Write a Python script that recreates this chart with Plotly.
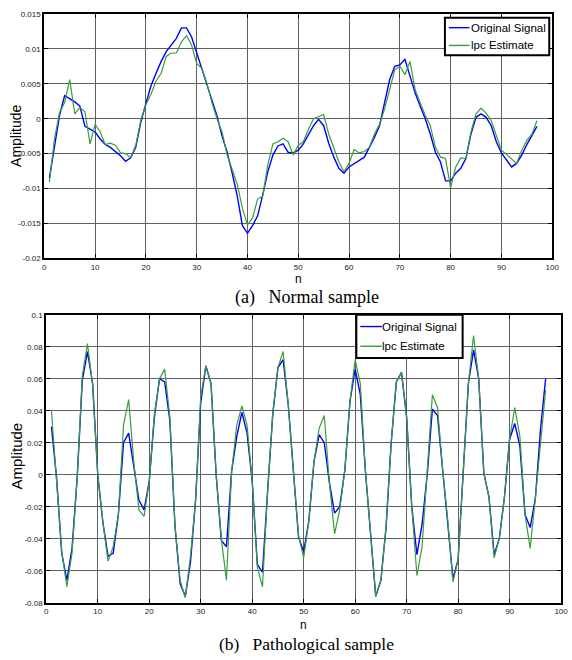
import plotly.graph_objects as go

W, H = 572, 660

# ---------------- data ----------------
n = list(range(1, 98))

normal_original = [
    -0.0085, -0.0043, 0.0005, 0.0033, 0.0029, 0.0024, 0.0018, -0.0011, -0.0015, -0.0019,
    -0.0029, -0.0037, -0.0041, -0.0047, -0.0053, -0.0061, -0.0056, -0.0041, -0.0005, 0.0022,
    0.0047, 0.0065, 0.0082, 0.0096, 0.0105, 0.0115, 0.0130, 0.0130, 0.0117, 0.0094,
    0.0072, 0.0051, 0.0028, 0.0004, -0.0025, -0.0048, -0.0078, -0.0111, -0.0153, -0.0164,
    -0.0153, -0.0139, -0.0109, -0.0076, -0.0052, -0.0039, -0.0036, -0.0048, -0.0049, -0.0045,
    -0.0036, -0.0023, -0.0010, -0.0001, -0.0010, -0.0035, -0.0055, -0.0071, -0.0078, -0.0069,
    -0.0064, -0.0060, -0.0055, -0.0041, -0.0027, -0.0010, 0.0023, 0.0056, 0.0075, 0.0077,
    0.0085, 0.0061, 0.0037, 0.0018, 0.0000, -0.0022, -0.0048, -0.0062, -0.0089, -0.0089,
    -0.0078, -0.0071, -0.0057, -0.0022, 0.0002, 0.0007, 0.0002, -0.0010, -0.0033, -0.0049,
    -0.0059, -0.0069, -0.0064, -0.0052, -0.0037, -0.0023, -0.0011,
]

normal_lpc = [
    -0.0091, -0.0029, 0.0009, 0.0023, 0.0056, 0.0007, 0.0016, 0.0010, -0.0036, -0.0008,
    -0.0019, -0.0037, -0.0035, -0.0038, -0.0049, -0.0050, -0.0056, -0.0038, -0.0002, 0.0020,
    0.0035, 0.0054, 0.0065, 0.0089, 0.0094, 0.0094, 0.0110, 0.0119, 0.0105, 0.0079,
    0.0072, 0.0051, 0.0023, 0.0000, -0.0019, -0.0052, -0.0073, -0.0094, -0.0128, -0.0152,
    -0.0142, -0.0115, -0.0111, -0.0066, -0.0036, -0.0033, -0.0028, -0.0033, -0.0052, -0.0038,
    -0.0033, -0.0015, 0.0000, 0.0003, 0.0006, -0.0022, -0.0041, -0.0062, -0.0076, -0.0064,
    -0.0044, -0.0049, -0.0047, -0.0041, -0.0022, -0.0008, 0.0014, 0.0042, 0.0070, 0.0075,
    0.0063, 0.0082, 0.0042, 0.0023, 0.0005, -0.0010, -0.0041, -0.0055, -0.0057, -0.0099,
    -0.0069, -0.0056, -0.0057, -0.0019, 0.0007, 0.0015, 0.0008, -0.0003, -0.0024, -0.0045,
    -0.0051, -0.0057, -0.0064, -0.0045, -0.0031, -0.0022, -0.0003,
]

patho_original = [
    0.030, -0.002, -0.049, -0.066, -0.046, -0.002, 0.059, 0.077, 0.057, 0.000,
    -0.030, -0.051, -0.049, -0.025, 0.020, 0.026, 0.005, -0.016, -0.022, -0.004,
    0.036, 0.060, 0.058, 0.034, -0.032, -0.068, -0.076, -0.055, -0.016, 0.045,
    0.068, 0.057, 0.000, -0.041, -0.045, 0.002, 0.024, 0.039, 0.026, -0.004,
    -0.056, -0.061, -0.010, 0.038, 0.067, 0.072, 0.044, 0.002, -0.039, -0.048,
    -0.029, 0.008, 0.025, 0.020, -0.005, -0.024, -0.020, 0.003, 0.046, 0.066,
    0.050, 0.002, -0.037, -0.076, -0.066, -0.033, 0.020, 0.058, 0.064, 0.036,
    -0.020, -0.050, -0.031, 0.000, 0.041, 0.037, 0.003, -0.029, -0.065, -0.053,
    0.000, 0.057, 0.078, 0.060, 0.001, -0.014, -0.050, -0.040, -0.014, 0.022,
    0.032, 0.018, -0.025, -0.033, -0.015, 0.028, 0.060,
]

patho_lpc = [
    0.040, -0.002, -0.048, -0.070, -0.049, -0.002, 0.062, 0.082, 0.056, 0.000,
    -0.030, -0.054, -0.045, -0.025, 0.031, 0.047, 0.008, -0.022, -0.026, -0.004,
    0.038, 0.060, 0.066, 0.036, -0.032, -0.066, -0.077, -0.051, -0.016, 0.049,
    0.068, 0.057, 0.000, -0.040, -0.066, 0.002, 0.031, 0.043, 0.031, -0.004,
    -0.058, -0.070, -0.010, 0.038, 0.067, 0.077, 0.044, 0.002, -0.038, -0.052,
    -0.029, 0.008, 0.029, 0.037, -0.005, -0.037, -0.022, 0.003, 0.046, 0.072,
    0.057, 0.002, -0.037, -0.076, -0.066, -0.033, 0.020, 0.058, 0.064, 0.036,
    -0.020, -0.063, -0.045, 0.000, 0.050, 0.042, 0.003, -0.029, -0.067, -0.053,
    0.000, 0.057, 0.087, 0.060, 0.001, -0.014, -0.052, -0.040, -0.014, 0.022,
    0.042, 0.024, -0.025, -0.046, -0.015, 0.020, 0.053,
]

x_ticks = [0, 10, 20, 30, 40, 50, 60, 70, 80, 90, 100]
x_ticklabels = ["0", "10", "20", "30", "40", "50", "60", "70", "80", "90", "100"]
a_yticks = [-0.02, -0.015, -0.01, -0.005, 0, 0.005, 0.01, 0.015]
a_yticklabels = ["-0.02", "-0.015", "-0.01", "-0.005", "0", "0.005", "0.01", "0.015"]
b_yticks = [-0.08, -0.06, -0.04, -0.02, 0, 0.02, 0.04, 0.06, 0.08, 0.1]
b_yticklabels = ["-0.08", "-0.06", "-0.04", "-0.02", "0", "0.02", "0.04", "0.06", "0.08", "0.1"]

series_names = ["Original Signal", "lpc Estimate"]
captions = ["(a)\u00a0\u00a0 Normal sample", "(b)\u00a0\u00a0 Pathological sample"]

# ---------------- style ----------------
BLUE = "#0000ff"
GREEN = "#3c9c3c"
SANS = "Liberation Sans, Arial, sans-serif"
SERIF = "Liberation Serif, Times New Roman, serif"


def px_x(p):
    return p / W


def px_y(p):
    return 1 - p / H


fig = go.Figure()

fig.add_trace(go.Scatter(x=n, y=normal_original, mode="lines", name=series_names[0],
                         line=dict(color=BLUE, width=1.4), xaxis="x", yaxis="y"))
fig.add_trace(go.Scatter(x=n, y=normal_lpc, mode="lines", name=series_names[1],
                         line=dict(color=GREEN, width=1.2), xaxis="x", yaxis="y"))
fig.add_trace(go.Scatter(x=n, y=patho_original, mode="lines", name=series_names[0],
                         line=dict(color=BLUE, width=1.4), xaxis="x2", yaxis="y2"))
fig.add_trace(go.Scatter(x=n, y=patho_lpc, mode="lines", name=series_names[1],
                         line=dict(color=GREEN, width=1.2), xaxis="x2", yaxis="y2"))

axis_common = dict(
    showline=True, linecolor="black", linewidth=2, mirror="ticks",
    ticks="inside", ticklen=4, tickcolor="black", tickwidth=1,
    showgrid=True, gridcolor="#606060", gridwidth=1.2, zeroline=False,
    tickfont=dict(family=SANS, size=8, color="#222"),
)

# panel geometry (pixels)
a_l, a_r, a_t, a_b = 43, 559, 10, 258
b_l, b_r, b_t, b_b = 45, 568, 315, 607

fig.update_layout(
    width=W, height=H,
    margin=dict(l=0, r=0, t=0, b=0),
    paper_bgcolor="white", plot_bgcolor="white",
    showlegend=False,
    xaxis=dict(axis_common, domain=[px_x(a_l), px_x(a_r)], range=[0, 100], anchor="y",
               tickmode="array", tickvals=x_ticks, ticktext=x_ticklabels),
    yaxis=dict(axis_common, domain=[px_y(a_b), px_y(a_t)], range=[-0.02, 0.015], anchor="x",
               tickmode="array", tickvals=a_yticks, ticktext=a_yticklabels),
    xaxis2=dict(axis_common, domain=[px_x(b_l), px_x(b_r)], range=[0, 100], anchor="y2",
                tickmode="array", tickvals=x_ticks, ticktext=x_ticklabels),
    yaxis2=dict(axis_common, domain=[px_y(b_b), px_y(b_t)], range=[-0.08, 0.1], anchor="x2",
                tickmode="array", tickvals=b_yticks, ticktext=b_yticklabels),
)

shapes = []
annotations = []


def add_legend(box, rows, line_x0, line_x1, text_x, font_size):
    l, t, r, b = box
    shapes.append(dict(type="rect", xref="paper", yref="paper",
                       x0=px_x(l), x1=px_x(r), y0=px_y(b), y1=px_y(t),
                       fillcolor="white", line=dict(color="black", width=2), layer="above"))
    for (yy, color, label) in rows:
        shapes.append(dict(type="line", xref="paper", yref="paper",
                           x0=px_x(line_x0), x1=px_x(line_x1), y0=px_y(yy), y1=px_y(yy),
                           line=dict(color=color, width=1.4), layer="above"))
        annotations.append(dict(text=label, x=px_x(text_x), y=px_y(yy), xanchor="left",
                                yanchor="middle",
                                font=dict(family=SANS, size=font_size, color="black")))


add_legend((450, 14, 556, 52), [(24, BLUE, series_names[0]), (42, GREEN, series_names[1])],
           454, 475, 474, 11.5)
add_legend((360, 315, 468, 359), [(327, BLUE, series_names[0]), (347, GREEN, series_names[1])],
           364, 386, 384, 11.5)

annotations += [
    dict(text="n", x=px_x(301), y=px_y(279), font=dict(family=SANS, size=12, color="black")),
    dict(text="n", x=px_x(306), y=px_y(630), font=dict(family=SANS, size=12, color="black")),
    dict(text="Amplitude", x=px_x(14), y=px_y(134), textangle=-90,
         font=dict(family=SANS, size=14, color="black")),
    dict(text="Amplitude", x=px_x(15), y=px_y(458), textangle=-90,
         font=dict(family=SANS, size=15, color="black")),
    dict(text=captions[0], x=px_x(310), y=px_y(298), font=dict(family=SERIF, size=18, color="black")),
    dict(text=captions[1], x=px_x(309), y=px_y(648.5), font=dict(family=SERIF, size=17.5, color="black")),
]
for a in annotations:
    a.setdefault("xanchor", "center")
    a.setdefault("yanchor", "middle")
    a.update(xref="paper", yref="paper", showarrow=False)

fig.update_layout(annotations=annotations, shapes=shapes)

# the page's default 8px body margin would shift the whole figure; remove it
fig.write_html("out.html", config={"displayModeBar": False},
               post_script="document.body.style.margin='0px';")
